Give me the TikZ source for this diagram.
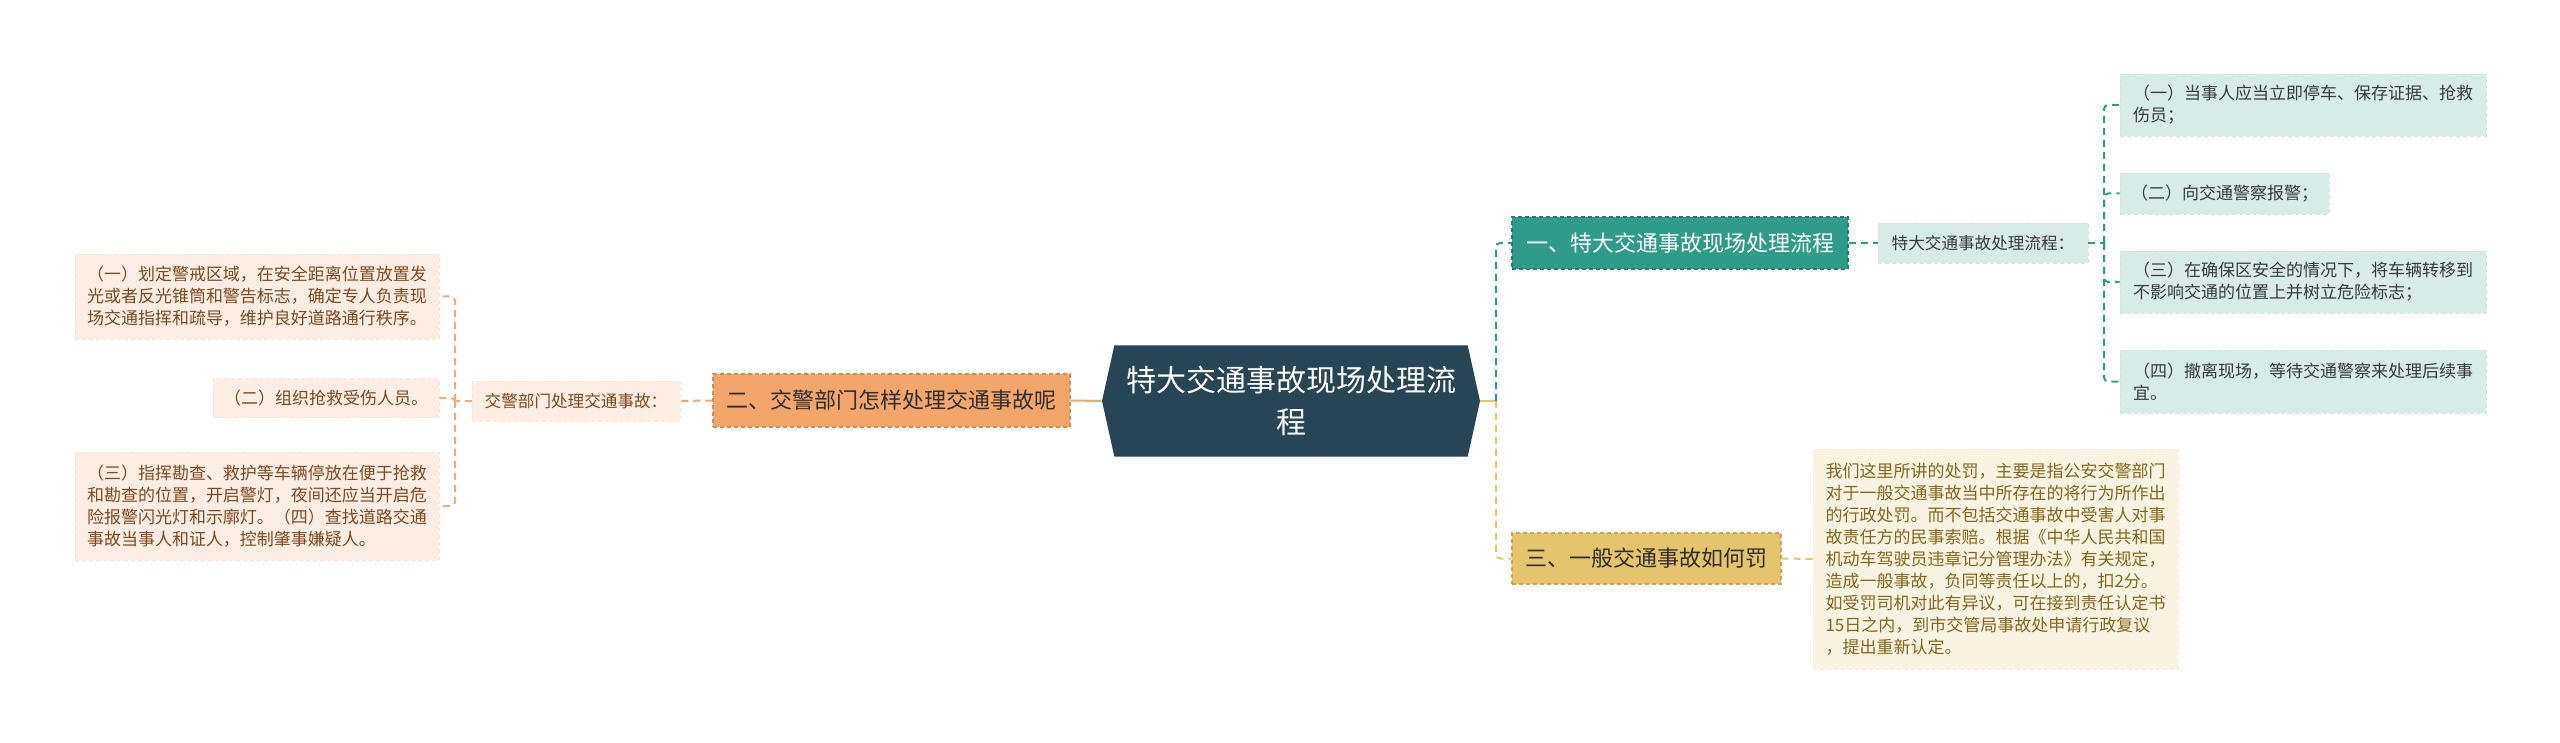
\documentclass[tikz,border=0pt]{standalone}
\usepackage{xcolor}
\usepackage{fontspec}
\setmainfont{Noto Sans CJK SC}
\usepackage{tikz}
\usetikzlibrary{shapes.symbols}

\definecolor{rootfill}{HTML}{274655}
\definecolor{tealc}{HTML}{2E9C88}
\definecolor{tealbg}{HTML}{D7EBE7}
\definecolor{orangec}{HTML}{F2A66A}
\definecolor{orangeln}{HTML}{EBAE80}
\definecolor{orangebg}{HTML}{FDEDE3}
\definecolor{orangetxt}{HTML}{7E4A1E}
\definecolor{yellowc}{HTML}{E6C46C}
\definecolor{yellowbg}{HTML}{FBF3E1}
\definecolor{yellowtxt}{HTML}{86661C}
\definecolor{darktxt}{HTML}{3A3A3A}

\tikzset{
  topic/.style={draw, line width=0.6pt, dash pattern=on 2pt off 1.5pt, inner sep=0pt,
    font=\fontsize{11}{13}\selectfont},
  tag/.style={draw, line width=0.4pt, dash pattern=on 2pt off 1.5pt, inner sep=0pt,
    minimum height=20pt, font=\fontsize{8.3}{10}\selectfont},
  note/.style={draw, line width=0.4pt, dash pattern=on 2pt off 1.5pt, inner xsep=5pt,
    inner ysep=0pt, align=left, font=\fontsize{8.5}{11}\selectfont},
  link/.style={line width=1pt, dash pattern=on 3.5pt off 2.5pt, rounded corners=2pt},
}

\begin{document}
\begin{tikzpicture}[x=0.5pt, y=-0.5pt]
    \useasboundingbox (0,0) rectangle (2560,743);

    % centre
    \node[shape=signal, signal to=west and east, signal pointer angle=155, fill=rootfill,
      text=white, minimum width=189pt, minimum height=55.5pt, inner sep=0pt, align=center,
      font=\fontsize{15}{21}\selectfont] (root) at (1291,401) {特大交通事故现场处理流\\程};

    % left branch
    \node[topic, fill=orangec, draw=orangec!85!black, text=darktxt!80!black,
      minimum width=178.5pt, minimum height=26.5pt] (n2) at (891.5,400.5) {二、交警部门怎样处理交通事故呢};
    \node[tag, fill=orangebg, draw=orangebg!97!black, text=orangetxt, minimum width=104pt] (lbl2) at (576,401) {交警部门处理交通事故：};
    \node[note, fill=orangebg, draw=orangebg!97!black, text=orangetxt, minimum width=182pt, minimum height=42.5pt] (L1) at (257,296.5)
      {（一）划定警戒区域，在安全距离位置放置发\\光或者反光锥筒和警告标志，确定专人负责现\\场交通指挥和疏导，维护良好道路通行秩序。};
    \node[note, fill=orangebg, draw=orangebg!97!black, text=orangetxt, minimum width=113pt, minimum height=19.5pt] (L2) at (326,398) {（二）组织抢救受伤人员。};
    \node[note, fill=orangebg, draw=orangebg!97!black, text=orangetxt, minimum width=182pt, minimum height=54pt] (L3) at (257,506)
      {（三）指挥勘查、救护等车辆停放在便于抢救\\和勘查的位置，开启警灯，夜间还应当开启危\\险报警闪光灯和示廓灯。（四）查找道路交通\\事故当事人和证人，控制肇事嫌疑人。};

    % right branch, first topic
    \node[topic, fill=tealc, draw=tealc!80!black, text=white,
      minimum width=168pt, minimum height=26pt] (n1) at (1680,243) {一、特大交通事故现场处理流程};
    \node[tag, fill=tealbg, draw=tealbg!97!black, text=darktxt, minimum width=105pt] (lbl1) at (1983,243) {特大交通事故处理流程：};
    \node[note, fill=tealbg, draw=tealbg!97!black, text=darktxt, minimum width=183pt, minimum height=31pt] (R1) at (2303,105)
      {（一）当事人应当立即停车、保存证据、抢救\\伤员；};
    \node[note, fill=tealbg, draw=tealbg!97!black, text=darktxt, minimum width=104.5pt, minimum height=20.5pt] (R2) at (2224.5,193.5)
      {（二）向交通警察报警；};
    \node[note, fill=tealbg, draw=tealbg!97!black, text=darktxt, minimum width=183pt, minimum height=31pt] (R3) at (2303,282)
      {（三）在确保区安全的情况下，将车辆转移到\\不影响交通的位置上并树立危险标志；};
    \node[note, fill=tealbg, draw=tealbg!97!black, text=darktxt, minimum width=183pt, minimum height=31.5pt] (R4) at (2303,381.5)
      {（四）撤离现场，等待交通警察来处理后续事\\宜。};

    % right branch, third topic
    \node[topic, fill=yellowc, draw=yellowc!85!black, text=darktxt!80!black,
      minimum width=134.5pt, minimum height=25.5pt] (n3) at (1646.5,558.5) {三、一般交通事故如何罚};
    \node[note, fill=yellowbg, draw=yellowbg!97!black, text=yellowtxt, minimum width=182.5pt, minimum height=110pt] (ybox) at (1995.5,559)
      {我们这里所讲的处罚，主要是指公安交警部门\\对于一般交通事故当中所存在的将行为所作出\\的行政处罚。而不包括交通事故中受害人对事\\故责任方的民事索赔。根据《中华人民共和国\\机动车驾驶员违章记分管理办法》有关规定，\\造成一般事故，负同等责任以上的，扣2分。\\如受罚司机对此有异议，可在接到责任认定书\\15日之内，到市交管局事故处申请行政复议\\，提出重新认定。};

    % forks
    \coordinate (lfork) at (455,401);
    \coordinate (rfork) at (1496,401);
    \coordinate (tfork) at (2104,243);

    % connectors
    \draw[link, orangec, solid] (root.west) -- (n2.east);
    \draw[link, orangec] (n2.west) -- (lbl2.east);
    \draw[link, orangeln] (lbl2.west) -- (lfork);
    \foreach \b in {L1,L2,L3}
      \draw[link, orangeln] (lfork) |- (\b.east);
    \draw[link, yellowc, solid] (root.east) -- (rfork);
    \draw[link, tealc] (rfork) |- (n1.west);
    \draw[link, yellowc] (rfork) |- (n3.west);
    \draw[link, tealc] (n1.east) -- (lbl1.west);
    \draw[link, tealc] (lbl1.east) -- (tfork);
    \foreach \b in {R1,R2,R3,R4}
      \draw[link, tealc] (tfork) |- (\b.west);
    \draw[link, yellowc] (n3.east) -- (ybox.west);
\end{tikzpicture}
\end{document}
